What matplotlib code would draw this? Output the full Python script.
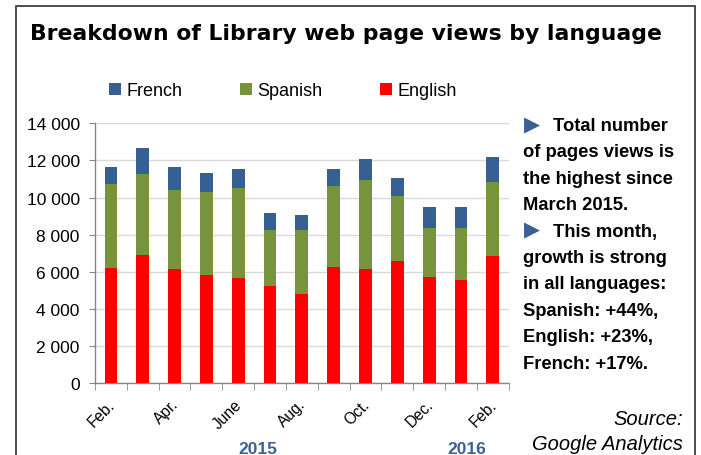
import numpy as np
import matplotlib
matplotlib.use("Agg")
import matplotlib.pyplot as plt
import matplotlib.transforms as mtransforms
from matplotlib.patches import Rectangle
from matplotlib.ticker import FuncFormatter, FixedLocator

# Data (page views per month, Feb 2015 - Feb 2016)
months = ["Feb.", "Mar.", "Apr.", "May", "June", "July", "Aug.",
          "Sep.", "Oct.", "Nov.", "Dec.", "Jan.", "Feb."]
english = [6210, 6890, 6170, 5820, 5690, 5220, 4830, 6250, 6140, 6570, 5740, 5560, 6840]
spanish = [4520, 4380, 4220, 4470, 4830, 3040, 3410, 4390, 4790, 3500, 2620, 2790, 4000]
french = [900, 1420, 1270, 1020, 1040, 930, 810, 880, 1130, 990, 1130, 1130, 1330]
shown_months = ["Feb.", "", "Apr.", "", "June", "", "Aug.", "", "Oct.", "", "Dec.", "", "Feb."]
years = ["2015", "2016"]
notes = ["Total number", "of pages views is", "the highest since", "March 2015.",
         "This month,", "growth is strong", "in all languages:",
         "Spanish: +44%,", "English: +23%,", "French: +17%."]

c_fr, c_es, c_en = "#366092", "#77933C", "#FF0000"
blue_txt = "#3A6096"
sans = ["Liberation Sans", "DejaVu Sans"]

fig = plt.figure(figsize=(7.01, 4.56), dpi=100)
ax = fig.add_axes([95 / 701, 1 - 384.3 / 456, (508.7 - 95) / 701, 260 / 456])

x = np.arange(len(months))
en = np.array(english)
es = np.array(spanish)
fr = np.array(french)
w = 0.4
ax.bar(x, en, w, color=c_en, label="English", zorder=3)
ax.bar(x, es, w, bottom=en, color=c_es, label="Spanish", zorder=3)
ax.bar(x, fr, w, bottom=en + es, color=c_fr, label="French", zorder=3)

ax.set_xlim(-0.5, len(months) - 0.5)
ax.set_ylim(0, 14000)
ax.set_yticks(np.arange(0, 14001, 2000))
ax.yaxis.set_major_formatter(FuncFormatter(lambda v, p: f"{int(v):,}".replace(",", " ")))
ax.grid(axis="y", color="#D9D9D9", linewidth=1, zorder=0)

for s in ["top", "right"]:
    ax.spines[s].set_visible(False)
for s in ["left", "bottom"]:
    ax.spines[s].set_color("#868686")
    ax.spines[s].set_linewidth(1)

ax.tick_params(axis="y", length=4, color="#868686", pad=7, labelsize=12.5)
for lbl in ax.get_yticklabels():
    lbl.set_family(sans)

# category boundary ticks on x, labels at centres
ax.xaxis.set_minor_locator(FixedLocator(np.arange(-0.5, len(months), 1)))
ax.tick_params(axis="x", which="minor", length=5, color="#868686")
ax.set_xticks(x)
ax.set_xticklabels(shown_months, rotation=45, ha="right", fontsize=11.2,
                   family="Liberation Sans")
ax.tick_params(axis="x", which="major", length=0, pad=5)
shift = mtransforms.ScaledTranslation(7 / 100, -6 / 100, fig.dpi_scale_trans)
for lbl in ax.get_xticklabels():
    lbl.set_transform(lbl.get_transform() + shift)

# legend
h, l = ax.get_legend_handles_labels()
leg = fig.legend(h[::-1], l[::-1], loc="center left", bbox_to_anchor=(93 / 701, 1 - 92 / 456),
                 ncol=3, frameon=False, prop={"family": sans, "size": 13},
                 handlelength=0.65, handleheight=0.65, handletextpad=0.3, columnspacing=3.2)

# title
fig.text(30 / 701, 1 - 34 / 456, "Breakdown of Library web page views by language",
         fontsize=15.75, fontweight="bold", family="DejaVu Sans", va="center", ha="left")

# year labels
fig.text(258 / 701, 1 - 450 / 456, years[0], color=blue_txt, fontsize=12.5,
         fontweight="bold", ha="center", va="center", family="Liberation Sans")
fig.text(467 / 701, 1 - 450 / 456, years[1], color=blue_txt, fontsize=12.5,
         fontweight="bold", ha="center", va="center", family="Liberation Sans")

# comment block
y0, pitch = 131, 26.4
for i, line in enumerate(notes):
    yb = 1 - (y0 + i * pitch) / 456
    xs = 523 / 701
    if i in (0, 4):
        fig.text(524 / 701, yb, "\u25B6", color=blue_txt, fontsize=15,
                 family="DejaVu Sans", va="baseline", ha="left")
        xs = 553 / 701
    fig.text(xs, yb, line, fontsize=13.2, fontweight="bold", family="Liberation Sans",
             va="baseline", ha="left")

# source
fig.text(683 / 701, 1 - 420 / 456, "Source:", fontsize=14.5, style="italic",
         family=sans, ha="right", va="center")
fig.text(683 / 701, 1 - 445 / 456, "Google Analytics", fontsize=14.5, style="italic",
         family=sans, ha="right", va="center")

# outer frame
fig.patches.append(Rectangle((16 / 701, -0.1), (695 - 16) / 701, 1.1 - 7 / 456,
                             transform=fig.transFigure, fill=False,
                             edgecolor="#404040", linewidth=1.3))

fig.savefig("out.png", dpi=100)
